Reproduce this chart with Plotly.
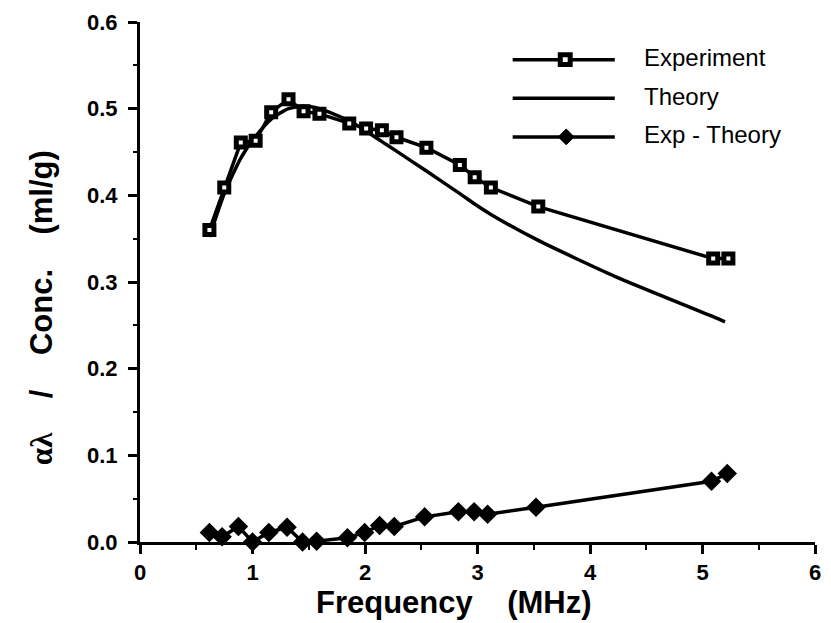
import plotly.graph_objects as go

# ---- data ----
freq_exp = [0.617, 0.749, 0.896, 1.028, 1.166, 1.32, 1.454, 1.595, 1.86, 2.01,
            2.15, 2.28, 2.546, 2.843, 2.975, 3.119, 3.54, 5.095, 5.23]
experiment = [0.360, 0.409, 0.461, 0.463, 0.496, 0.511, 0.497, 0.494, 0.483, 0.477,
              0.475, 0.467, 0.455, 0.435, 0.421, 0.409, 0.387, 0.327, 0.327]

freq_theory = [0.617, 0.749, 0.896, 1.028, 1.166, 1.32, 1.454, 1.595, 1.86, 2.01,
               2.15, 2.28, 2.546, 2.843, 2.975, 3.119, 3.54, 4.23, 5.095, 5.20]
theory = [0.352, 0.402, 0.443, 0.468, 0.488, 0.500, 0.503, 0.500, 0.486, 0.474,
          0.462, 0.451, 0.428, 0.402, 0.390, 0.378, 0.348, 0.306, 0.260, 0.254]

freq_diff = [0.617, 0.73, 0.875, 1.0, 1.145, 1.307, 1.445, 1.57, 1.844, 1.997,
             2.13, 2.26, 2.53, 2.83, 2.97, 3.09, 3.52, 5.08, 5.22]
exp_minus_theory = [0.011, 0.006, 0.018, 0.0, 0.011, 0.017, 0.0, 0.001, 0.005, 0.011,
                    0.019, 0.018, 0.029, 0.035, 0.035, 0.032, 0.040, 0.070, 0.079]

x_ticks = [0, 1, 2, 3, 4, 5, 6]
y_ticks = [0.0, 0.1, 0.2, 0.3, 0.4, 0.5, 0.6]
y_tick_labels = ["0.0", "0.1", "0.2", "0.3", "0.4", "0.5", "0.6"]

legend_names = ["Experiment", "Theory", "Exp - Theory"]

# ---- layout geometry (pixels) ----
W, H = 831, 623
L, R, T, B = 140, 10, 17, 81
PW, PH = W - L - R, H - T - B
FONT = "Liberation Sans, Arial, Helvetica, sans-serif"


def px(x):
    return (x - L) / PW


def py(y):
    return (H - B - y) / PH


fig = go.Figure()
fig.add_trace(go.Scatter(x=freq_theory, y=theory, mode="lines", name=legend_names[1],
                         line=dict(color="black", width=3.5, shape="spline", smoothing=0.6),
                         cliponaxis=False))
fig.add_trace(go.Scatter(x=freq_exp, y=experiment, mode="lines+markers", name=legend_names[0],
                         line=dict(color="black", width=3.5),
                         marker=dict(symbol="square", size=9, color="white",
                                     line=dict(color="black", width=5)),
                         cliponaxis=False))
fig.add_trace(go.Scatter(x=freq_diff, y=exp_minus_theory, mode="lines+markers", name=legend_names[2],
                         line=dict(color="black", width=3.5),
                         marker=dict(symbol="diamond", size=15, color="black"),
                         cliponaxis=False))

# ---- custom legend ----
shapes = []
annotations = []
leg_rows = [55, 94, 133]
for i, yy in enumerate(leg_rows):
    shapes.append(dict(type="line", xref="paper", yref="paper",
                       x0=px(516), x1=px(619), y0=py(yy), y1=py(yy),
                       line=dict(color="black", width=3.5)))
    annotations.append(dict(text=legend_names[i], xref="paper", yref="paper",
                            x=px(646), y=py(yy - 2), xanchor="left", yanchor="middle",
                            showarrow=False, font=dict(family=FONT, size=24, color="black")))
# square marker in legend
cx, cy, s = 569, 55, 5
shapes.append(dict(type="rect", xref="paper", yref="paper",
                   x0=px(cx - s), x1=px(cx + s), y0=py(cy - s), y1=py(cy + s),
                   fillcolor="white", line=dict(color="black", width=5)))
# diamond marker in legend
cx, cy, d = 570, 133, 8
shapes.append(dict(type="path", xref="paper", yref="paper",
                   path=f"M {px(cx - d)} {py(cy)} L {px(cx)} {py(cy - d)} L {px(cx + d)} {py(cy)} L {px(cx)} {py(cy + d)} Z",
                   fillcolor="black", line=dict(color="black", width=1)))

# axis titles
annotations.append(dict(text="<b>Frequency    (MHz)</b>", xref="paper", yref="paper",
                        x=px(457), y=py(603), xanchor="center", yanchor="middle",
                        showarrow=False, font=dict(family=FONT, size=31, color="black")))
annotations.append(dict(text="<b><span style='font-family:Liberation Serif, DejaVu Serif, serif'>αλ</span>    /    Conc.    (ml/g)</b>",
                        xref="paper", yref="paper",
                        x=px(40), y=py(305), xanchor="center", yanchor="middle",
                        textangle=-90, showarrow=False,
                        font=dict(family=FONT, size=31, color="black")))

fig.update_layout(
    width=W, height=H,
    margin=dict(l=L, r=R, t=T, b=B),
    paper_bgcolor="white", plot_bgcolor="white",
    showlegend=False,
    shapes=shapes, annotations=annotations,
    font=dict(family=FONT, color="black"),
)
fig.update_xaxes(range=[0, 6], tickvals=x_ticks, ticktext=[f"<b>{v}</b>" for v in x_ticks],
                 showgrid=False, zeroline=False, showline=True, linecolor="black", linewidth=3,
                 ticks="outside", ticklen=9, tickwidth=3, tickcolor="black",
                 tickfont=dict(family=FONT, size=22, color="black"),
                 minor=dict(dtick=0.5, ticks="outside", ticklen=5, tickwidth=2, tickcolor="black"))
fig.update_yaxes(range=[0, 0.6], tickvals=y_ticks, ticktext=[f"<b>{t}</b>" for t in y_tick_labels],
                 showgrid=False, zeroline=False, showline=True, linecolor="black", linewidth=3,
                 ticks="outside", ticklen=9, tickwidth=3, tickcolor="black",
                 ticklabelstandoff=6,
                 tickfont=dict(family=FONT, size=22, color="black"),
                 minor=dict(dtick=0.05, ticks="outside", ticklen=4, tickwidth=2, tickcolor="black"))

fig.write_html("out.html")
